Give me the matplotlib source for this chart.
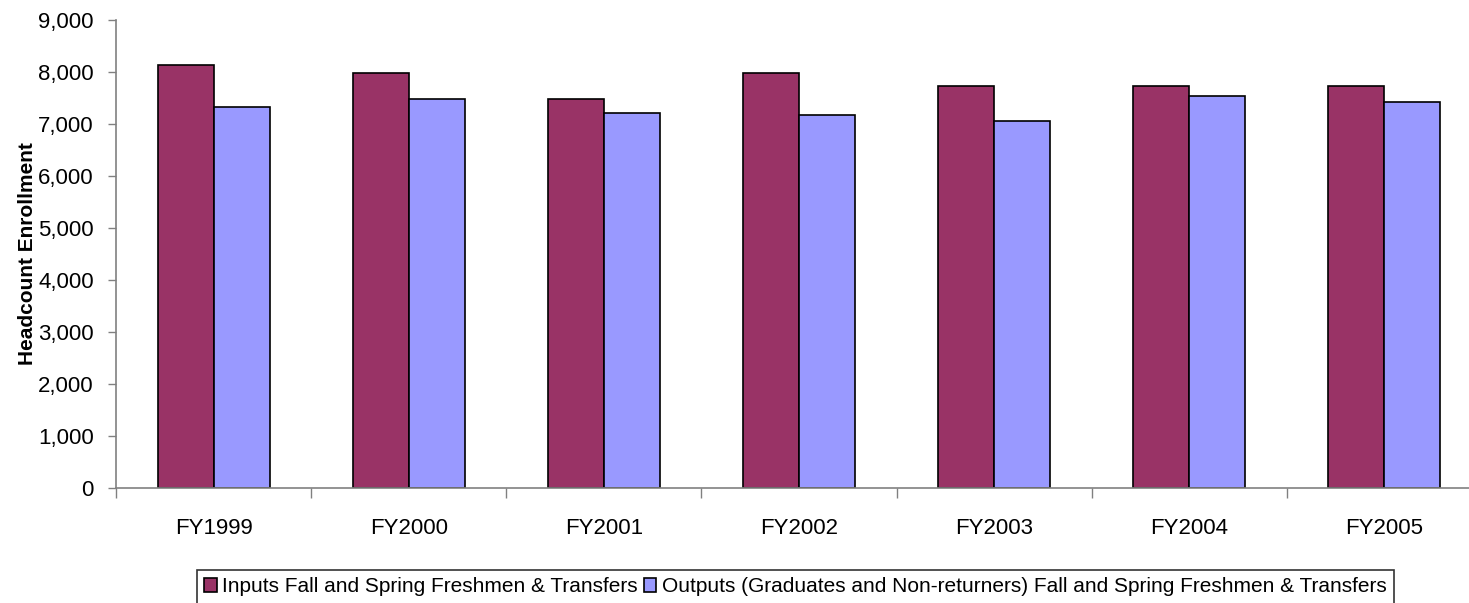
import matplotlib
matplotlib.use("Agg")
import matplotlib.pyplot as plt
import numpy as np
from matplotlib.ticker import FuncFormatter, FixedLocator

plt.rcParams["font.family"] = ["Liberation Sans", "DejaVu Sans"]

years = ["FY1999", "FY2000", "FY2001", "FY2002", "FY2003", "FY2004", "FY2005"]
inputs = [8134, 7980, 7479, 7980, 7736, 7736, 7736]
outputs = [7320, 7479, 7204, 7172, 7050, 7543, 7416]

input_label = "Inputs Fall and Spring Freshmen & Transfers"
output_label = "Outputs (Graduates and Non-returners) Fall and Spring Freshmen & Transfers"

W, H = 1469, 603
fig = plt.figure(figsize=(W / 100, H / 100), dpi=100)
# plot area runs a little past the right edge of the canvas
ax = fig.add_axes([116 / W, (H - 487.5) / H, 1366 / W, 467.5 / H])

x = np.arange(len(years))
bw = 0.287
ax.bar(x - bw / 2, inputs, bw, color="#993366", edgecolor="black", linewidth=1.2,
       label=input_label)
ax.bar(x + bw / 2, outputs, bw, color="#9999FF", edgecolor="black", linewidth=1.2,
       label=output_label)

ax.set_xlim(-0.5, len(years) - 0.5)
ax.set_ylim(0, 9000)
ax.set_yticks(np.arange(0, 9001, 1000))
ax.yaxis.set_major_formatter(FuncFormatter(lambda v, p: f"{int(v):,}"))

# category boundaries get ticks, labels sit in the middle
ax.xaxis.set_major_locator(FixedLocator(np.arange(-0.5, len(years), 1.0)))
ax.xaxis.set_major_formatter(FuncFormatter(lambda v, p: ""))
ax.xaxis.set_minor_locator(FixedLocator(x))
ax.set_xticklabels(years, minor=True)
ax.tick_params(axis="x", which="major", length=7, width=1, color="#808080", direction="out")
ax.tick_params(axis="x", which="minor", length=0, pad=22, labelsize=16)
ax.tick_params(axis="y", length=6, width=1, color="#808080", direction="out",
               pad=10, labelsize=16)

for s in ("top", "right"):
    ax.spines[s].set_visible(False)
for s in ("left", "bottom"):
    ax.spines[s].set_color("#808080")
    ax.spines[s].set_linewidth(1.2)

ax.set_ylabel("Headcount Enrollment", fontsize=15, fontweight="bold", labelpad=1)

leg = fig.legend(loc="upper left", bbox_to_anchor=(197 / W, 1 - 570 / H), ncol=2,
                 fontsize=15, frameon=True, fancybox=False, handlelength=0.6,
                 handleheight=0.7, handletextpad=0.25, columnspacing=0.3,
                 borderpad=0.35, borderaxespad=0)
leg.get_frame().set_edgecolor("black")
leg.get_frame().set_linewidth(1.2)

fig.savefig("out.png", dpi=100)
